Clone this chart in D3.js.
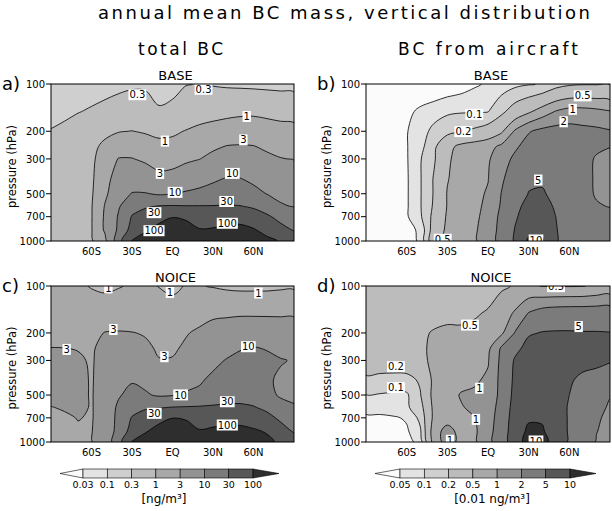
<!DOCTYPE html>
<html><head><meta charset="utf-8">
<script src="https://cdn.jsdelivr.net/npm/d3@7"></script>
<style>body{margin:0;background:#fff}svg{display:block}text{font-family:"DejaVu Sans",sans-serif;fill:#000}</style>
</head><body><svg id="chart" width="612" height="511"></svg>
<script>
// ---------------- data ----------------
const lats = [-90,-80,-70,-60,-50,-40,-30,-20,-10,0,10,20,30,40,50,60,70,80,90];
const levels = [100,150,200,250,300,400,500,600,700,850,1000];
const latTicks = [-60,-30,0,30,60];
const latTickLabels = ["60S","30S","EQ","30N","60N"];
const pTicks = [100,200,300,500,700,1000];

const thresholdsTotal = [0.03,0.1,0.3,1,3,10,30,100];
const thresholdsAir = [0.05,0.1,0.2,0.5,1,2,5,10];

// total BC, BASE (ng/m3) rows = pressure levels, cols = latitudes
const totalBase = [
 [0.15,0.16,0.18,0.2,0.22,0.25,0.27,0.27,0.24,0.24,0.29,0.31,0.28,0.26,0.25,0.24,0.23,0.22,0.21],
 [0.2,0.24,0.29,0.33,0.38,0.42,0.45,0.42,0.32,0.36,0.5,0.6,0.68,0.75,0.82,0.85,0.8,0.75,0.72],
 [0.32,0.38,0.45,0.55,0.75,0.95,1.02,0.9,0.8,0.85,1.05,1.3,1.5,1.7,1.8,1.7,1.5,1.35,1.3],
 [0.4,0.45,0.55,0.75,1.3,1.9,2.0,1.7,1.3,1.35,1.7,2.2,2.6,3.1,3.2,3.1,2.6,2.3,2.2],
 [0.45,0.5,0.6,0.8,1.8,3.1,3.1,2.6,2.1,2.2,2.6,2.95,3.8,4.5,5.0,4.5,3.6,3.1,2.9],
 [0.5,0.55,0.65,0.85,2.2,4.5,5.5,5.0,3.8,4.0,5.0,6.5,8.5,10.5,10.2,8.5,7,5.5,5],
 [0.55,0.6,0.7,0.9,2.5,6,10.5,10.5,9,9.8,11.5,13,15,17,15,12.5,9.8,8,7.5],
 [0.6,0.65,0.75,0.95,3.2,9,20,27,31,32,31,31,31,32,31,26,18,11,9.5],
 [0.6,0.7,0.8,0.95,3.5,11,32,45,70,95,85,65,60,65,70,50,35,22,16],
 [0.6,0.7,0.8,0.95,3.5,12,45,90,140,200,150,105,110,130,130,110,70,42,28],
 [0.6,0.65,0.75,0.9,2.2,20,105,160,220,260,230,180,190,200,190,170,130,92,60]
];
// total BC, NOICE (ng/m3)
const totalNoice = [
 [1.3,1.3,1.15,0.95,0.85,0.95,1.1,1.15,0.98,0.85,1.05,1.05,0.95,0.85,0.8,0.8,0.8,0.85,0.85],
 [1.6,1.6,1.6,1.6,1.6,1.7,1.6,1.5,1.4,1.4,1.6,2.0,2.5,2.6,2.7,2.7,2.7,2.7,2.7],
 [2.0,2.0,2.1,2.4,3.1,3.2,3.1,2.8,2.2,2.1,2.8,3.6,4.5,5.0,5.5,5.5,5.3,5.0,4.8],
 [3.05,3.02,2.9,2.8,3.6,4.0,3.8,3.5,2.7,2.6,3.5,5,6.5,7.5,9.5,10.5,9.5,8,7],
 [3.5,3.5,3.3,2.8,4,5,5,4.5,3.1,3.2,4.5,6,8,10.5,12,13,12,10.5,9.5],
 [4,4,3.8,2.8,4.5,7,9,8,6,6.5,7.5,9,12,14,15,14,11,9,8],
 [4,4,3.8,2.8,5,9,14,11,9,9.5,11,12,15,18,20,18,13,9,8],
 [2.9,3.3,3.8,2.8,5,12,20,27,28,31,32,33,35,37,36,32,24,14,11],
 [2.5,2.6,3.1,2.8,5,13,32,45,70,98,90,70,65,70,70,55,40,25,18],
 [2.3,2.4,2.7,2.9,5,14,45,90,150,200,160,105,120,130,130,115,90,45,27],
 [2.2,2.3,2.5,2.9,5,20,105,170,230,270,240,190,200,210,200,170,130,80,50]
];
// BC from aircraft, BASE (0.01 ng/m3)
const airBase = [
 [0.02,0.02,0.02,0.02,0.022,0.025,0.03,0.035,0.045,0.055,0.07,0.085,0.095,0.105,0.15,0.18,0.19,0.19,0.19],
 [0.02,0.02,0.025,0.04,0.06,0.075,0.09,0.095,0.095,0.098,0.17,0.3,0.45,0.7,1.05,1.3,1.3,1.2,1.05],
 [0.02,0.02,0.03,0.048,0.075,0.12,0.16,0.19,0.23,0.3,0.45,1.1,1.9,2.4,2.6,2.6,2.4,2.3,2.1],
 [0.02,0.02,0.03,0.048,0.08,0.17,0.4,0.6,0.7,0.8,1.15,1.8,2.6,3,3,2.8,2.4,2.2,2.05],
 [0.02,0.02,0.03,0.047,0.095,0.18,0.45,0.65,0.8,0.92,1.5,2.3,3.2,3.6,3.6,3.0,2.4,1.9,1.6],
 [0.02,0.02,0.03,0.046,0.095,0.21,0.48,0.68,0.85,0.98,1.8,3,4.5,4.6,4,3,2.3,1.9,1.6],
 [0.02,0.02,0.03,0.046,0.095,0.21,0.52,0.7,0.88,1.05,2.05,3.4,5.1,5.3,4.3,3.2,2.4,1.9,1.7],
 [0.02,0.02,0.03,0.046,0.095,0.22,0.52,0.72,0.9,1.1,2.2,4.0,6.5,6.5,4.6,3.3,2.6,2.1,1.95],
 [0.02,0.02,0.03,0.046,0.09,0.25,0.55,0.72,0.92,1.15,2.5,4.6,7,7.5,5,3.5,2.8,2.4,2.3],
 [0.02,0.02,0.03,0.035,0.06,0.3,0.58,0.75,0.95,1.2,2.7,5.2,8.5,8.5,5.2,3.7,3,2.7,2.6],
 [0.02,0.02,0.03,0.03,0.06,0.38,0.6,0.78,0.95,1.25,2.8,5.5,11,10.8,5.3,3.8,3.2,2.8,2.8]
];
// BC from aircraft, NOICE (0.01 ng/m3)
const airNoice = [
 [0.3,0.3,0.3,0.3,0.32,0.33,0.35,0.37,0.4,0.42,0.46,0.52,0.55,0.49,0.48,0.48,0.49,0.55,0.6],
 [0.35,0.35,0.35,0.36,0.38,0.42,0.44,0.46,0.48,0.52,0.7,1.1,2.1,2.8,3.1,3.2,3.2,3.2,3.2],
 [0.38,0.38,0.4,0.42,0.46,0.52,0.55,0.53,0.55,0.65,0.9,2.1,4.6,5.2,5.3,5.3,5.2,5.2,5.1],
 [0.35,0.35,0.37,0.38,0.45,0.56,0.62,0.64,0.7,0.85,2.2,4.0,6.5,7,7,6.8,6.5,6,5.8],
 [0.28,0.28,0.3,0.32,0.42,0.58,0.65,0.7,0.78,0.95,2.4,5.5,7.5,8,8,7.5,6.5,5.8,5.2],
 [0.18,0.17,0.16,0.16,0.22,0.6,0.7,0.8,0.92,1.1,2.5,6,8,8.5,8,5.5,4.2,4,3.8],
 [0.098,0.095,0.09,0.09,0.19,0.65,0.75,1.05,1.1,1.2,2.5,6.5,8.5,9,8.5,5,4,3.6,2.1],
 [0.08,0.08,0.085,0.09,0.15,0.6,0.75,0.95,1.15,1.3,2.8,7,9,9.3,8.5,4.5,3.8,2.6,1.8],
 [0.04,0.04,0.045,0.055,0.12,0.6,0.8,0.85,0.98,1.4,3.0,7.5,9.5,9.8,8.8,4.5,3.6,2.2,1.7],
 [0.03,0.03,0.035,0.045,0.09,0.8,1.2,0.85,0.9,1.5,3.2,8,10.8,10.2,9,4.5,3.4,2.05,1.6],
 [0.03,0.03,0.03,0.035,0.07,0.7,1.3,0.85,0.9,1.6,3.3,8,12,11,9,4.5,3.3,1.9,1.6]
];

// contour labels: [lat, pressure, text]
const labelsA = [[-26,117,"0.3"],[23,108,"0.3"],[-5.6,231,"1"],[55,161,"1"],[-9.3,371,"3"],[52.5,227,"3"],[1.9,490,"10"],[44.3,371,"10"],[-13.7,660,"30"],[40.1,560,"30"],[-13.7,860,"100"],[40.6,771,"100"]];
const labelsB = [[-10.1,156,"0.1"],[-18.2,201,"0.2"],[69.8,119,"0.5"],[62.5,145,"1"],[55.8,174,"2"],[37.1,409,"5"],[35.4,985,"10"],[-33.4,975,"0.5"]];
const labelsC = [[-47.5,103,"1"],[-1.9,110,"1"],[63.6,111,"1"],[-78.4,255,"3"],[-43.8,190,"3"],[-6,284,"3"],[6,499,"10"],[56.2,245,"10"],[-13.5,655,"30"],[40.6,552,"30"],[40.6,778,"100"]];
const labelsD = [[-13.3,178,"0.5"],[66.9,182,"5"],[-67.9,329,"0.2"],[-67.9,448,"0.1"],[-6.4,452,"1"],[-8.9,716,"1"],[-28,975,"1"],[35.4,985,"10"],[50.2,101,"0.5"]];

// ---------------- drawing ----------------
const greys = ["#fbfbfb","#e3e3e3","#cfcfcf","#bcbcbc","#a8a8a8","#939393","#7b7b7b","#575757","#2e2e2e"];
const svg = d3.select("#chart");
const FONT = "DejaVu Sans, sans-serif";

function drawPanel(cfg, idx) {
  const {x0, x1, y0, y1, grid, thresholds, labels} = cfg;
  const nx = lats.length, ny = levels.length;
  const xs = d3.scaleLinear().domain([-90, 90]).range([x0, x1]);
  const ys = d3.scaleLog().domain([100, 1000]).range([y0, y1]);
  const lp = levels.map(Math.log10);
  const gxToLat = gx => { const f = gx - 0.5; const i = Math.max(0, Math.min(nx - 2, Math.floor(f))); return lats[i] + (f - i) * (lats[i + 1] - lats[i]); };
  const gyToP = gy => { const f = gy - 0.5; const i = Math.max(0, Math.min(ny - 2, Math.floor(f))); return Math.pow(10, lp[i] + (f - i) * (lp[i + 1] - lp[i])); };
  const toPx = pt => [xs(gxToLat(pt[0])), ys(gyToP(pt[1]))];

  const flat = grid.flat().map(v => Math.log10(v));
  const conts = d3.contours().size([nx, ny]).thresholds(thresholds.map(Math.log10))(flat);
  const line = d3.line().curve(d3.curveCatmullRomClosed.alpha(0.5));
  const pathOf = mp => mp.coordinates.map(poly => poly.map(ring => line(ring.slice(0, -1).map(toPx))).join("")).join("");

  const clipId = "clip" + idx;
  svg.append("clipPath").attr("id", clipId).append("rect").attr("x", x0).attr("y", y0).attr("width", x1 - x0).attr("height", y1 - y0);
  const g = svg.append("g").attr("clip-path", `url(#${clipId})`);
  g.append("rect").attr("x", x0).attr("y", y0).attr("width", x1 - x0).attr("height", y1 - y0).attr("fill", greys[0]);
  conts.forEach((c, k) => {
    if (!c.coordinates.length) return;
    g.append("path").attr("d", pathOf(c)).attr("fill", greys[k + 1]).attr("fill-rule", "evenodd")
      .attr("stroke", "#000").attr("stroke-width", 0.8).attr("stroke-linejoin", "round");
  });
  // contour labels
  labels.forEach(([la, p, t]) => {
    const cx = xs(la), cy = ys(p);
    const tx = g.append("text").attr("x", cx).attr("y", cy + 3.6).attr("text-anchor", "middle")
      .attr("font-size", 10).attr("font-family", FONT).text(t);
    const bb = tx.node().getBBox();
    g.insert("rect", () => tx.node()).attr("x", bb.x - 1).attr("y", cy - 5.5).attr("width", bb.width + 2).attr("height", 11).attr("fill", "#fff");
  });
  // frame
  svg.append("rect").attr("x", x0).attr("y", y0).attr("width", x1 - x0).attr("height", y1 - y0)
    .attr("fill", "none").attr("stroke", "#000").attr("stroke-width", 1);
  // y axis ticks
  pTicks.forEach(p => {
    const y = ys(p);
    svg.append("line").attr("x1", x0 - 5).attr("x2", x0).attr("y1", y).attr("y2", y).attr("stroke", "#000");
    svg.append("text").attr("x", x0 - 6).attr("y", y + 3.8).attr("text-anchor", "end").attr("font-size", 10)
      .attr("font-family", FONT).text(p);
  });
  // x labels
  latTicks.forEach((la, i) => {
    svg.append("text").attr("x", xs(la)).attr("y", y1 + 14).attr("text-anchor", "middle").attr("font-size", 10)
      .attr("font-family", FONT).text(latTickLabels[i]);
  });
  // y title
  const yc = (y0 + y1) / 2 + 4;
  svg.append("text").attr("transform", `translate(${x0 - 35},${yc}) rotate(-90)`).attr("text-anchor", "middle")
    .attr("font-size", 11.5).attr("font-family", FONT).text("pressure (hPa)");
  // panel title and letter
  svg.append("text").attr("x", (x0 + x1) / 2 + 3).attr("y", y0 - 4).attr("text-anchor", "middle").attr("font-size", 13)
    .attr("font-family", FONT).text(cfg.title);
  svg.append("text").attr("x", x0 - 49).attr("y", y0 + 6).attr("font-size", 18).attr("font-family", FONT).text(cfg.letter);
}

function colorbar(bx0, bx1, tipL, tipR, y, h, thresholds, unit, unitX) {
  const n = thresholds.length - 1;
  const xs = d3.scaleLinear().domain([0, n]).range([bx0, bx1]);
  const g = svg.append("g");
  g.append("path").attr("d", `M${tipL},${y + h / 2}L${bx0},${y}L${bx0},${y + h}Z`).attr("fill", greys[0]).attr("stroke", "#000").attr("stroke-width", 0.6);
  for (let k = 0; k < n; k++) {
    g.append("rect").attr("x", xs(k)).attr("y", y).attr("width", xs(k + 1) - xs(k)).attr("height", h)
      .attr("fill", greys[k + 1]).attr("stroke", "#000").attr("stroke-width", 0.6);
  }
  g.append("path").attr("d", `M${tipR},${y + h / 2}L${bx1},${y}L${bx1},${y + h}Z`).attr("fill", greys[8]).attr("stroke", "#000").attr("stroke-width", 0.6);
  thresholds.forEach((t, i) => {
    g.append("text").attr("x", xs(i)).attr("y", y + h + 10).attr("text-anchor", "middle").attr("font-size", 9.5)
      .attr("font-family", FONT).text(String(t));
  });
  g.append("text").attr("x", unitX).attr("y", 503).attr("text-anchor", "middle").attr("font-size", 12)
    .attr("font-family", FONT).text(unit);
}

// titles
svg.append("text").attr("x", 98).attr("y", 19).attr("font-size", 18).attr("font-family", FONT)
  .attr("textLength", 492).attr("lengthAdjust", "spacing").text("annual mean BC mass, vertical distribution");
svg.append("text").attr("x", 138).attr("y", 55).attr("font-size", 17).attr("font-family", FONT)
  .attr("textLength", 85).attr("lengthAdjust", "spacing").text("total BC");
svg.append("text").attr("x", 398).attr("y", 55).attr("font-size", 17).attr("font-family", FONT)
  .attr("textLength", 180).attr("lengthAdjust", "spacing").text("BC from aircraft");

drawPanel({x0: 51, x1: 294, y0: 84, y1: 241, grid: totalBase, thresholds: thresholdsTotal, labels: labelsA, title: "BASE", letter: "a)"}, 0);
drawPanel({x0: 366, x1: 610, y0: 84, y1: 241, grid: airBase, thresholds: thresholdsAir, labels: labelsB, title: "BASE", letter: "b)"}, 1);
drawPanel({x0: 51, x1: 294, y0: 286, y1: 442, grid: totalNoice, thresholds: thresholdsTotal, labels: labelsC, title: "NOICE", letter: "c)"}, 2);
drawPanel({x0: 366, x1: 610, y0: 286, y1: 442, grid: airNoice, thresholds: thresholdsAir, labels: labelsD, title: "NOICE", letter: "d)"}, 3);

colorbar(83, 253, 60, 279, 469, 9, thresholdsTotal, "[ng/m³]", 164);
colorbar(400, 570, 375, 596, 469, 9, thresholdsAir, "[0.01 ng/m³]", 492);
</script></body></html>
